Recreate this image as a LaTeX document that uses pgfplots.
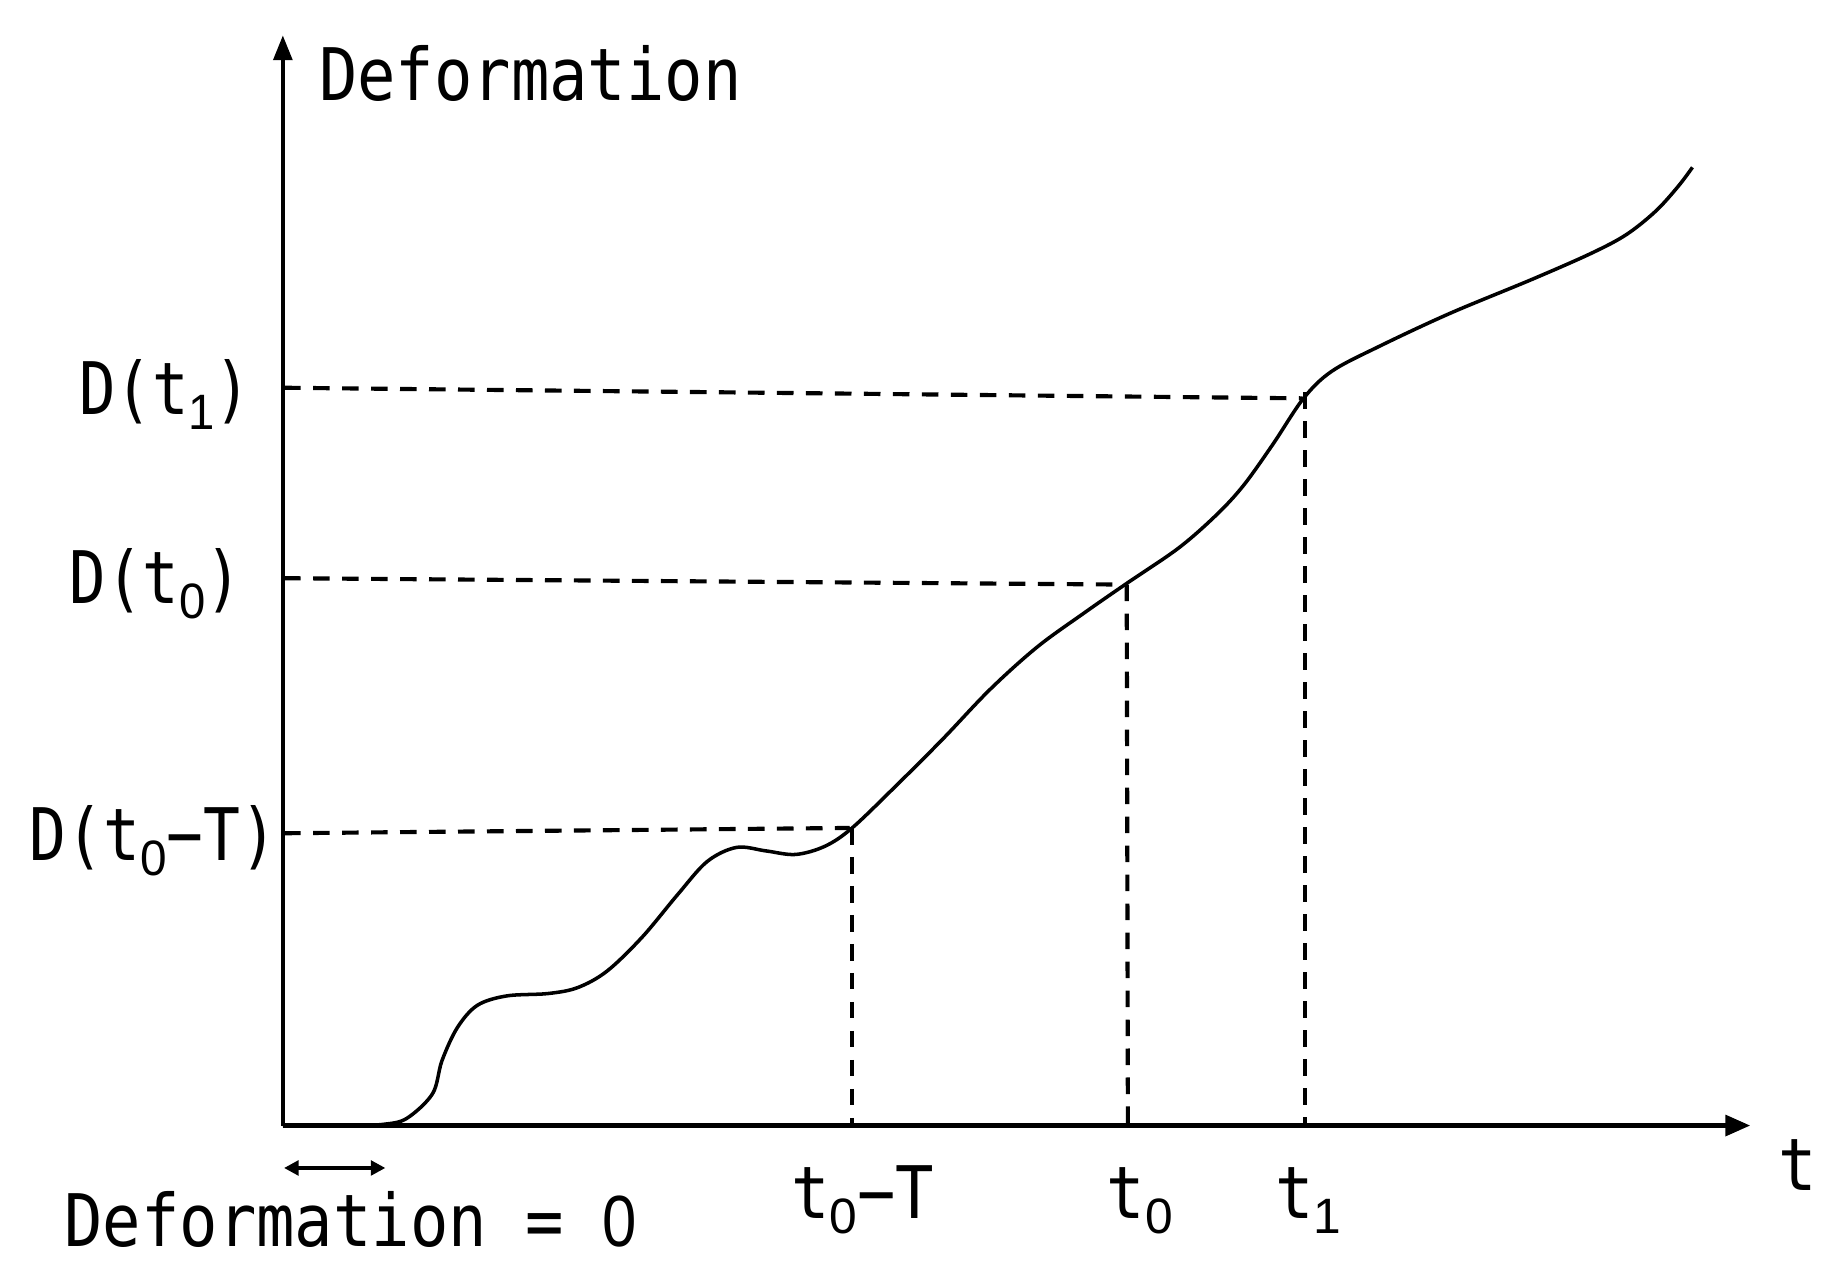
\documentclass[border=0pt]{standalone}
\usepackage{pgfplots}
\pgfplotsset{compat=1.18}
\usepackage{fontspec}
\usetikzlibrary{arrows.meta}
\newfontfamily\lbl[FakeStretch=0.88]{DejaVu Sans Mono}
\newfontfamily\dig{Liberation Sans}
\newcommand\lf{\lbl\fontsize{17.5}{21}\selectfont}
\newcommand\sub[1]{\raisebox{-3.6pt}{\dig\fontsize{12}{12}\selectfont #1}}
\newcommand\zero{\scalebox{0.85}[1]{\dig 0}}
\begin{document}
\begin{tikzpicture}
\begin{axis}[
  scale only axis, width=124.5mm, height=92.5mm,
  xmin=0, xmax=1245, ymin=0, ymax=925,
  axis lines=left,
  axis line style={line width=1pt},
  every outer x axis line/.append style={-{Triangle[length=6pt,width=5pt]}},
  every outer y axis line/.append style={-{Triangle[length=6pt,width=4.5pt]}},
  xtick=\empty, ytick=\empty,
  clip=false,
]
% invisible frame fixing the picture size
\path (axis cs:-240,-130) rectangle (axis cs:1328,955);

% curve
\addplot[black, line width=0.85pt, smooth, tension=0.55] coordinates {
(0,0)(60,0)(85,1)(105,6)(127,27)(135,55)(148,83)(165,102)(190,110)(225,112)
(250,117)(275,131)(305,160)(335,196)(360,224)(385,236)(410,233)(435,230)
(460,237)(483,252.5)(520,288)(560,328)(600,370)(640,406)(680,435)(716,460)
(760,490)(792,518)(815,543)(840,578)(866,617)(890,640)(930,661)(990,689)
(1060,718)(1110,740)(1140,756)(1165,776)(1184,797)(1196,813)};

% dashed guides
\addplot[black, line width=1pt, dash pattern=on 4pt off 3pt] coordinates {(1,626)(865,617)};
\addplot[black, line width=1pt, dash pattern=on 4pt off 3pt] coordinates {(867.5,622)(867.5,0)};
\addplot[black, line width=1pt, dash pattern=on 4pt off 3pt] coordinates {(1,464.4)(714,459)};
\addplot[black, line width=1pt, dash pattern=on 4pt off 3pt] coordinates {(716,459)(717,0)};
\addplot[black, line width=1pt, dash pattern=on 4pt off 3pt] coordinates {(1,248)(481,252.5)};
\addplot[black, line width=1pt, dash pattern=on 4pt off 3pt] coordinates {(483,252.5)(483,0)};

% double arrow
\addplot[black, line width=1pt, {Triangle[length=3.5pt,width=3.5pt]}-{Triangle[length=3.5pt,width=3.5pt]}] coordinates {(1,-36)(87,-36)};

% labels
\node[anchor=base west, inner sep=0] at (axis cs:30,870) {\lf Deformation};
\node[anchor=base east, inner sep=0] at (axis cs:-26,603) {\scalebox{0.95}[1]{\lf D(t\sub{1})}};
\node[anchor=base east, inner sep=0] at (axis cs:-34,443) {\scalebox{0.95}[1]{\lf D(t\sub{0})}};
\node[anchor=base east, inner sep=0] at (axis cs:-4,225) {\scalebox{0.96}[1]{\lf D(t\sub{0}−T)}};
\node[anchor=base, inner sep=0] at (axis cs:492,-79) {\lf t\sub{0}−T};
\node[anchor=base, inner sep=0] at (axis cs:727,-79) {\lf t\sub{0}};
\node[anchor=base, inner sep=0] at (axis cs:870,-79) {\lf t\sub{1}};
\node[anchor=base, inner sep=0] at (axis cs:1285,-55) {\lf t};
\node[anchor=base west, inner sep=0] at (axis cs:-186,-103) {\lf Deformation = \zero};
\end{axis}
\end{tikzpicture}
\end{document}
